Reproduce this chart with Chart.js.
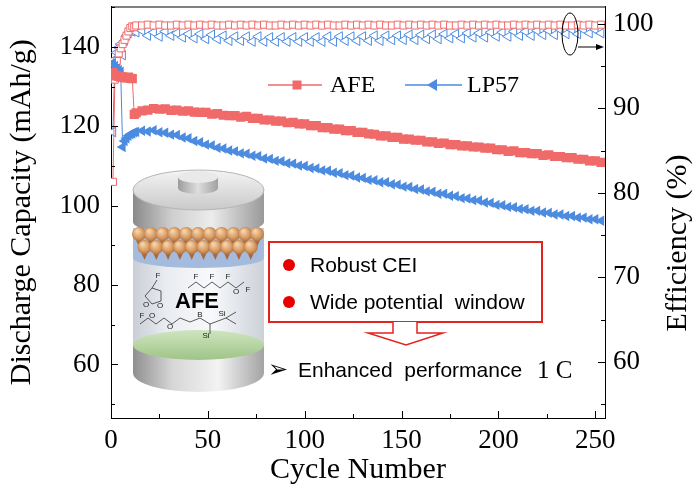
<!DOCTYPE html>
<html><head><meta charset="utf-8">
<script src="https://cdn.jsdelivr.net/npm/chart.js@4.4.0/dist/chart.umd.min.js"></script>
<style>html,body{margin:0;padding:0;background:#fff;}canvas{display:block;}</style>
</head><body>
<canvas id="c" width="700" height="495"></canvas>
<script>
const cycles=[1,2,3,4,5,6,7,8,9,10,11,12,13,16,19,22,25,28,31,34,37,40,43,46,49,52,55,58,61,64,67,70,73,76,79,82,85,88,91,94,97,100,103,106,109,112,115,118,121,124,127,130,133,136,139,142,145,148,151,154,157,160,163,166,169,172,175,178,181,184,187,190,193,196,199,202,205,208,211,214,217,220,223,226,229,232,235,238,241,244,247,250,253];
const afeCapacity=[133.6,132.9,132.7,132.6,132.4,132.5,132.3,132.2,132.4,132.1,132.0,123.0,123.4,
123.9,124.1,124.5,124.3,124.4,124.0,124.1,123.8,123.9,123.6,
123.5,123.5,123.1,123.2,122.8,122.7,122.7,122.3,122.5,122.0,
122.0,121.6,121.6,121.3,121.3,120.9,121.0,120.6,120.6,120.2,
120.2,119.7,119.7,119.3,119.3,118.9,118.9,118.5,118.5,118.1,
118.0,117.6,117.6,117.2,117.2,116.8,116.8,116.5,116.5,116.1,
116.1,115.7,115.8,115.4,115.4,115.1,115.1,114.8,114.8,114.5,
114.5,114.1,114.1,113.7,113.8,113.4,113.4,113.1,113.1,112.7,
112.8,112.4,112.4,112.1,112.1,111.7,111.7,111.3,111.3,110.9];
const lp57Capacity=[136.0,135.2,134.6,134.2,133.8,114.8,116.3,117.0,117.6,118.0,118.2,118.5,118.6,
118.9,118.7,119.0,118.5,118.4,117.9,117.8,117.2,117.0,116.3,
116.0,115.4,115.2,114.6,114.4,113.9,113.7,113.2,113.1,112.6,
112.5,111.9,111.8,111.3,111.2,110.7,110.6,110.1,110.0,109.5,
109.4,108.9,108.8,108.3,108.2,107.7,107.6,107.1,107.0,106.5,
106.4,105.9,105.9,105.4,105.3,104.8,104.7,104.2,104.1,103.6,
103.5,103.0,103.0,102.5,102.4,101.9,101.8,101.4,101.3,100.8,
100.7,100.2,100.1,99.7,99.6,99.2,99.1,98.7,98.7,98.3,
98.2,97.8,97.8,97.4,97.4,97.0,97.0,96.6,96.6,96.2];
const afeEfficiency=[81.3,93.4,95.6,96.5,97.1,97.6,98.1,98.6,99.1,99.5,99.7,99.6,99.8,
99.8,99.9,99.8,99.9,99.8,99.8,99.9,99.8,99.9,99.8,
99.9,99.8,99.9,99.8,99.8,99.9,99.8,99.9,99.8,99.9,
99.8,99.9,99.8,99.8,99.9,99.8,99.9,99.8,99.9,99.8,
99.9,99.8,99.9,99.8,99.8,99.9,99.8,99.9,99.8,99.9,
99.8,99.9,99.8,99.8,99.9,99.8,99.9,99.8,99.9,99.8,
99.9,99.8,99.9,99.8,99.8,99.9,99.8,99.9,99.8,99.9,
99.8,99.9,99.8,99.8,99.9,99.8,99.9,99.8,99.9,99.8,
99.9,99.8,99.9,99.8,99.8,99.9,99.8,99.9,99.8,99.9];
const lp57Efficiency=[87.2,95.8,96.6,97.2,97.6,96.3,98.0,98.6,98.9,99.2,99.1,99.3,99.0,
99.2,98.6,99.0,98.5,99.1,98.6,98.9,98.4,98.8,98.3,
98.8,98.2,98.7,98.2,98.6,98.0,98.5,98.0,98.5,97.9,
98.5,97.9,98.4,97.9,98.4,97.9,98.4,97.9,98.4,97.9,
98.4,97.9,98.5,97.9,98.5,98.0,98.5,98.0,98.5,98.0,
98.6,98.0,98.6,98.1,98.6,98.1,98.7,98.1,98.7,98.2,
98.7,98.2,98.8,98.3,98.8,98.3,98.9,98.4,98.9,98.4,
99.0,98.5,99.0,98.5,99.1,98.6,99.1,98.6,99.2,98.7,
99.2,98.7,99.3,98.8,99.3,98.8,99.3,98.9,99.3,98.9];
const seriesNames=['AFE','LP57'];
const xTickValues=[0,50,100,150,200,250];
const capTickValues=[60,80,100,120,140];
const effTickValues=[60,70,80,90,100];

const RED='#F06A6A', BLUE='#4B8BE0', SERIF='"Liberation Serif","Times New Roman",serif', SANS='"Liberation Sans",Arial,sans-serif';
const pts=(ys)=>cycles.map((c,i)=>({x:c,y:ys[i]}));
const noPad=(s)=>{s.paddingTop=0;s.paddingBottom=0;s.paddingLeft=0;s.paddingRight=0;};

function drawBattery(ctx){
  ctx.save();
  const cx=198.5,L=133,R=264,rx=65.5;
  let g=ctx.createLinearGradient(L,0,R,0);
  g.addColorStop(0,'#8f8f8f');g.addColorStop(0.3,'#d6d6d6');g.addColorStop(0.65,'#f3f3f3');g.addColorStop(1,'#a3a3a3');
  ctx.fillStyle=g;ctx.beginPath();ctx.moveTo(L,345);ctx.lineTo(L,373);ctx.ellipse(cx,373,rx,19,0,Math.PI,0,true);ctx.lineTo(R,345);ctx.closePath();ctx.fill();
  g=ctx.createLinearGradient(L,0,R,0);
  g.addColorStop(0,'#c9ced6');g.addColorStop(0.25,'#e9ecf0');g.addColorStop(0.6,'#f8f9fb');g.addColorStop(1,'#ccd1d8');
  ctx.fillStyle=g;ctx.fillRect(L,228,R-L,118);
  g=ctx.createLinearGradient(0,330,0,360);g.addColorStop(0,'#cfe5c0');g.addColorStop(1,'#9ec486');
  ctx.fillStyle=g;ctx.beginPath();ctx.ellipse(cx,345,rx,15,0,0,Math.PI*2);ctx.fill();
  ctx.fillStyle='#a4bbdd';ctx.beginPath();ctx.moveTo(L,236);ctx.lineTo(R,236);ctx.lineTo(R,258);ctx.ellipse(cx,258,rx,10,0,0,Math.PI,false);ctx.closePath();ctx.fill();
  g=ctx.createLinearGradient(L,0,R,0);
  g.addColorStop(0,'#8a8a8a');g.addColorStop(0.3,'#cfcfcf');g.addColorStop(0.6,'#ececec');g.addColorStop(1,'#999');
  ctx.fillStyle=g;ctx.beginPath();ctx.moveTo(L,190);ctx.lineTo(L,222);ctx.ellipse(cx,222,rx,13,0,Math.PI,0,true);ctx.lineTo(R,190);ctx.closePath();ctx.fill();
  for(let row=0;row<2;row++){
    for(let i=0;i<11;i++){
      const px=139+i*11.8+(row?5.5:0), py=row?247:234;
      if(px>260)continue;
      const rg=ctx.createRadialGradient(px-2,py-3,1,px,py,8);
      rg.addColorStop(0,'#f6d2a8');rg.addColorStop(0.6,'#d79a62');rg.addColorStop(1,'#a8683a');
      ctx.fillStyle=rg;ctx.beginPath();ctx.arc(px,py,7,0,Math.PI*2);ctx.fill();
      ctx.beginPath();ctx.moveTo(px-4,py+4);ctx.lineTo(px,py+13);ctx.lineTo(px+4,py+4);ctx.fill();
    }
  }
  g=ctx.createLinearGradient(0,170,0,210);g.addColorStop(0,'#f4f4f4');g.addColorStop(1,'#c9c9c9');
  ctx.fillStyle=g;ctx.beginPath();ctx.ellipse(cx,190,rx,20,0,0,Math.PI*2);ctx.fill();
  ctx.strokeStyle='#b5b5b5';ctx.lineWidth=1;ctx.stroke();
  g=ctx.createLinearGradient(178,0,218,0);g.addColorStop(0,'#9c9c9c');g.addColorStop(0.5,'#dedede');g.addColorStop(1,'#a0a0a0');
  ctx.fillStyle=g;ctx.beginPath();ctx.moveTo(178,177);ctx.lineTo(178,188);ctx.ellipse(198,188,20,6,0,Math.PI,0,true);ctx.lineTo(218,177);ctx.closePath();ctx.fill();
  ctx.fillStyle='#e9e9e9';ctx.beginPath();ctx.ellipse(198,177,20,6,0,0,Math.PI*2);ctx.fill();
  ctx.strokeStyle='#333';ctx.lineWidth=0.8;ctx.fillStyle='#222';ctx.font='8px '+SANS;ctx.textAlign='center';ctx.textBaseline='middle';
  ctx.beginPath();
  ctx.moveTo(145,296);ctx.lineTo(152,288);ctx.lineTo(161,291);ctx.lineTo(161,301);ctx.lineTo(152,304);ctx.closePath();
  ctx.moveTo(152,288);ctx.lineTo(157,280);
  ctx.moveTo(188,288);ctx.lineTo(196,282);ctx.lineTo(204,288);ctx.lineTo(212,282);ctx.lineTo(220,288);ctx.lineTo(228,282);ctx.lineTo(236,288);ctx.lineTo(244,282);
  ctx.moveTo(140,324);ctx.lineTo(148,318);ctx.lineTo(156,324);ctx.lineTo(164,318);ctx.lineTo(172,324);ctx.lineTo(180,318);ctx.lineTo(190,322);ctx.lineTo(200,318);ctx.lineTo(210,324);
  ctx.moveTo(210,324);ctx.lineTo(226,318);ctx.lineTo(236,312);ctx.moveTo(226,318);ctx.lineTo(236,324);ctx.moveTo(210,324);ctx.lineTo(210,334);
  ctx.stroke();
  [['F',158,276],['O',146,305],['O',160,306],['F',196,277],['F',212,277],['F',228,277],['O',236,292],['F',248,290],['O',152,316],['O',170,327],['B',200,315],['Si',222,314],['Si',206,336],['F',142,316]].forEach(t=>ctx.fillText(t[0],t[1],t[2]));
  ctx.fillStyle='#000';ctx.font='bold 22px '+SANS;ctx.fillText('AFE',197,302);
  ctx.restore();
}

function drawNotes(ctx){
  ctx.save();
  ctx.fillStyle='#fff';ctx.strokeStyle='#E3231E';ctx.lineWidth=2;
  ctx.fillRect(269,242,273,80);ctx.strokeRect(269,242,273,80);
  ctx.beginPath();ctx.moveTo(393,322);ctx.lineTo(393,333);ctx.lineTo(368,333);ctx.lineTo(406,345);ctx.lineTo(443,333);ctx.lineTo(417,333);ctx.lineTo(417,322);
  ctx.fillStyle='#fff';ctx.fill();ctx.lineWidth=1.5;ctx.stroke();
  ctx.fillStyle='#E80000';
  [265,302].forEach(y=>{ctx.beginPath();ctx.arc(289,y,6,0,Math.PI*2);ctx.fill();});
  ctx.fillStyle='#000';ctx.textBaseline='middle';ctx.textAlign='left';ctx.font='21px '+SANS;
  ctx.fillText('Robust CEI',310,266);
  ctx.fillText('Wide potential  window',310,303);
  ctx.font='24px "DejaVu Sans",sans-serif';ctx.fillText('\u27A2',268,371);
  ctx.font='21px '+SANS;ctx.fillText('Enhanced  performance',298,371);
  ctx.font='25px '+SERIF;ctx.fillText('1 C',537,371);
  ctx.lineWidth=1.5;ctx.strokeStyle=RED;ctx.beginPath();ctx.moveTo(268,85);ctx.lineTo(322,85);ctx.stroke();
  ctx.fillStyle=RED;ctx.fillRect(292.5,80.5,9,9);
  ctx.strokeStyle=BLUE;ctx.beginPath();ctx.moveTo(405,85);ctx.lineTo(462,85);ctx.stroke();
  ctx.fillStyle=BLUE;ctx.beginPath();ctx.moveTo(427,85);ctx.lineTo(437,79);ctx.lineTo(437,91);ctx.closePath();ctx.fill();
  ctx.fillStyle='#000';ctx.font='24px '+SERIF;ctx.fillText(seriesNames[0],330,86);ctx.fillText(seriesNames[1],467,86);
  ctx.strokeStyle='#000';ctx.lineWidth=1;ctx.beginPath();ctx.ellipse(570,34,8,21,0,0,Math.PI*2);ctx.stroke();
  ctx.beginPath();ctx.moveTo(578,47);ctx.lineTo(598,47);ctx.stroke();
  ctx.fillStyle='#000';ctx.beginPath();ctx.moveTo(604,47);ctx.lineTo(596,44);ctx.lineTo(596,50);ctx.closePath();ctx.fill();
  ctx.restore();
}

const decor={id:'decor',
  afterDatasetsDraw(chart){const ctx=chart.ctx;drawBattery(ctx);drawNotes(ctx);},
  afterDraw(chart){
    const {ctx,chartArea:a,scales}=chart;ctx.save();ctx.strokeStyle='#000';ctx.lineWidth=1;ctx.beginPath();
    ctx.moveTo(a.left,a.top+0.5);ctx.lineTo(a.right,a.top+0.5);
    for(let v=0;v<=250;v+=25){const p=Math.round(scales.x.getPixelForValue(v))+0.5;const l=v%50===0?7:4;ctx.moveTo(p,a.bottom);ctx.lineTo(p,a.bottom-l);}
    for(let v=50;v<=150;v+=10){const p=Math.round(scales.yCap.getPixelForValue(v))+0.5;const l=v%20===0?7:4;ctx.moveTo(a.left,p);ctx.lineTo(a.left+l,p);}
    for(let v=55;v<=100;v+=5){const p=Math.round(scales.yEff.getPixelForValue(v))+0.5;const l=v%10===0?7:4;ctx.moveTo(a.right,p);ctx.lineTo(a.right-l,p);}
    ctx.stroke();
    ctx.translate(678,243);ctx.rotate(-Math.PI/2);ctx.fillStyle='#000';ctx.font='30px '+SERIF;ctx.textAlign='center';ctx.textBaseline='middle';
    ctx.fillText('Efficiency (%)',0,0);
    ctx.restore();
  }
};

new Chart(document.getElementById('c'),{
  type:'line',
  data:{datasets:[
    {label:'AFE',data:pts(afeCapacity),yAxisID:'yCap',borderColor:RED,backgroundColor:RED,borderWidth:1,pointStyle:'rect',pointRadius:6.5,pointBorderWidth:0,pointBackgroundColor:RED,tension:0},
    {label:'LP57',data:pts(lp57Capacity),yAxisID:'yCap',borderColor:BLUE,backgroundColor:BLUE,borderWidth:1,pointStyle:'triangle',pointRotation:-90,pointRadius:6,pointBorderWidth:0,pointBackgroundColor:BLUE,tension:0},
    {label:'AFE efficiency',data:pts(afeEfficiency),yAxisID:'yEff',borderColor:RED,backgroundColor:'#fff',borderWidth:1,pointStyle:'rect',pointRadius:5,pointBorderWidth:1,pointBorderColor:RED,pointBackgroundColor:'#fff',tension:0},
    {label:'LP57 efficiency',data:pts(lp57Efficiency),yAxisID:'yEff',borderColor:BLUE,backgroundColor:'#fff',borderWidth:1,pointStyle:'triangle',pointRotation:-90,pointRadius:5.5,pointBorderWidth:1,pointBorderColor:BLUE,pointBackgroundColor:'#fff',tension:0}
  ]},
  options:{responsive:false,animation:false,layout:{padding:{top:6,left:0,right:0,bottom:0}},
    plugins:{legend:{display:false},tooltip:{enabled:false}},
    scales:{
      x:{type:'linear',position:'bottom',min:0,max:255,
        afterBuildTicks(s){s.ticks=xTickValues.map(v=>({value:v}));},
        ticks:{color:'#000',font:{family:SERIF,size:27},padding:7,maxRotation:0},
        grid:{display:true,drawOnChartArea:false,drawTicks:false},border:{display:true,color:'#000',width:1},
        title:{display:true,text:'Cycle Number',color:'#000',font:{family:SERIF,size:30},padding:{top:0,bottom:7}},
        afterFit(s){s.height=77;noPad(s);}},
      yCap:{type:'linear',position:'left',min:46.5,max:150.2,
        afterBuildTicks(s){s.ticks=capTickValues.map(v=>({value:v}));},
        ticks:{color:'#000',font:{family:SERIF,size:27},padding:11},
        grid:{display:true,drawOnChartArea:false,drawTicks:false},border:{display:true,color:'#000',width:1},
        title:{display:true,text:'Discharge Capacity (mAh/g)',color:'#000',font:{family:SERIF,size:30},padding:{top:4,bottom:0}},
        afterFit(s){s.width=111;noPad(s);}},
      yEff:{type:'linear',position:'right',min:53.35,max:102.05,
        afterBuildTicks(s){s.ticks=effTickValues.map(v=>({value:v}));},
        ticks:{color:'#000',font:{family:SERIF,size:27},padding:8},
        grid:{display:true,drawOnChartArea:false,drawTicks:false},border:{display:true,color:'#000',width:1},
        title:{display:false},
        afterFit(s){s.width=95;noPad(s);}}
    }
  },
  plugins:[decor]
});
</script>
</body></html>
